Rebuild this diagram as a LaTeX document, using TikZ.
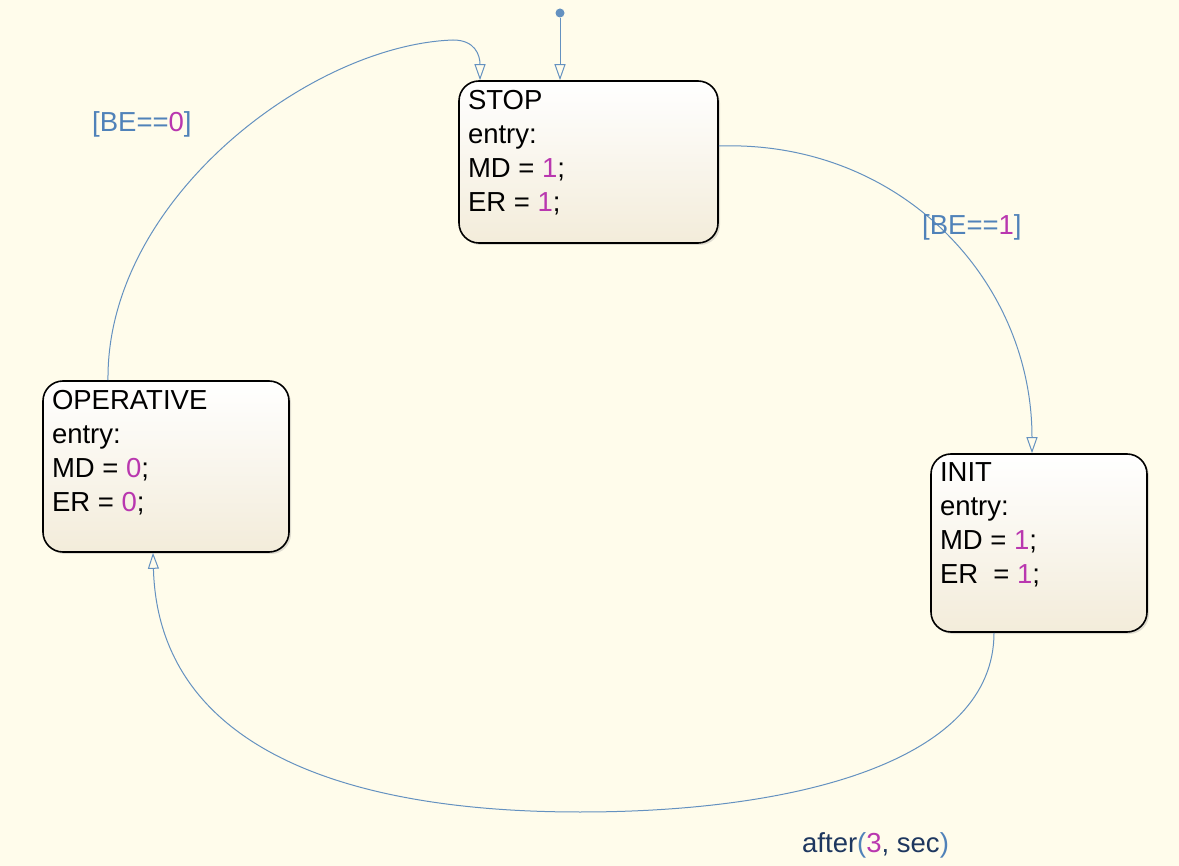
\documentclass[tikz,border=0pt]{standalone}
\usepackage{fontspec}
\setmainfont{Liberation Sans}
\usetikzlibrary{arrows.meta,shadows,positioning}

\definecolor{chartbg}{RGB}{255,252,235}
\definecolor{linkblue}{RGB}{100,145,192}
\definecolor{guardblue}{RGB}{80,130,185}
\definecolor{numpink}{RGB}{185,55,175}
\definecolor{evtnavy}{RGB}{30,55,95}
\definecolor{statebot}{RGB}{243,236,218}

\tikzset{
  state/.style={draw=black,line width=1.6pt,rounded corners=20pt,top color=white,bottom color=statebot,
    drop shadow={shadow xshift=2pt,shadow yshift=-2pt,opacity=0.25},inner sep=9pt,
    font=\fontsize{27.5}{34}\selectfont},
  transition/.style={draw=linkblue,line width=1pt,-{Triangle[open,length=16pt,width=11pt]}},
  guardlabel/.style={anchor=base west,inner sep=0pt,text=guardblue,font=\fontsize{27.5}{30}\selectfont},
}

\begin{document}
\begin{tikzpicture}[x=1pt,y=-1pt]
    \useasboundingbox (0,0) rectangle (1179,866);
    \fill[chartbg] (0,0) rectangle (1179,866);

    \node[state] (stop) at (588.5,162) {\parbox[c][144pt][t]{241pt}{STOP\\entry:\\MD = \textcolor{numpink}{1};\\ER = \textcolor{numpink}{1};}};
    \node[state] (init) at (1039,543) {\parbox[c][160pt][t]{198pt}{INIT\\entry:\\MD = \textcolor{numpink}{1};\\ER\ \ = \textcolor{numpink}{1};}};
    \node[state] (operative) at (166,466.5) {\parbox[c][153pt][t]{228pt}{OPERATIVE\\entry:\\MD = \textcolor{numpink}{0};\\ER = \textcolor{numpink}{0};}};

    % default transition
    \node[circle,fill=linkblue,inner sep=0pt,minimum size=9pt] (default) at (560,13) {};
    \draw[transition] (default) -- ([xshift=-28.5pt]stop.north);

    % transitions
    \draw[transition] ([yshift=16pt]stop.east) .. controls (900,140) and (1032,280) .. ([xshift=-7pt]init.north);

    \coordinate (bottom) at (580,812);
    \draw[transition] ([xshift=-45pt]init.south) .. controls (994,760) and (800,812) .. (bottom)
        .. controls (330,812) and (158,740) .. ([xshift=-13pt]operative.south);

    \coordinate (top) at (453,40);
    \draw[transition] ([xshift=-58pt]operative.north) .. controls (106,200) and (310,45) .. (top)
        .. controls (475,40) and (480,55) .. ([xshift=-108.5pt]stop.north);

    % guards and events
    \node[guardlabel] (guard1) at (922,235) {[BE==\textcolor{numpink}{1}]};
    \node[guardlabel] (guard0) at (92,132) {[BE==\textcolor{numpink}{0}]};
    \node[guardlabel] (afterlabel) at (802,852) {\textcolor{evtnavy}{after}(\textcolor{numpink}{3}\textcolor{evtnavy}{, sec})};

\end{tikzpicture}
\end{document}
